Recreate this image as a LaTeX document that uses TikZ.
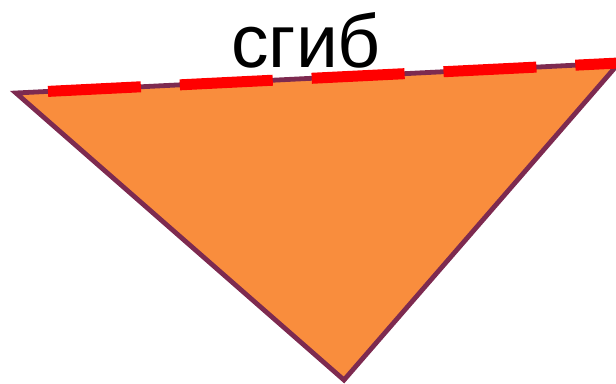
\documentclass[tikz,border=0pt]{standalone}
\usepackage{fontspec}
\setmainfont{Liberation Sans}
\definecolor{fillorange}{RGB}{249,141,61}
\definecolor{edgepurple}{RGB}{125,42,80}
\definecolor{foldred}{RGB}{255,0,0}
\tikzset{
  tri/.style={fill=fillorange, draw=edgepurple, line width=4.8pt, line join=miter},
  fold/.style={draw=foldred, line width=11pt, dash pattern=on 93pt off 39pt},
  lbl/.style={font=\fontsize{75}{75}\selectfont, text=black, inner sep=0pt, anchor=base}
}
\begin{document}
\begin{tikzpicture}[x=1pt,y=-1pt]
\useasboundingbox (0,0) rectangle (616,383);
\begin{scope}
\clip (0,0) rectangle (616,383);
\coordinate (L) at (16,93);
\coordinate (R) at (619,63);
\coordinate (B) at (344,380);
\coordinate (S) at (48,91.4);
\draw[tri] (L) -- (R) -- (B) -- cycle;
\draw[fold] (S) -- (R);
\end{scope}
\node[lbl] (t) at (306,67) {сгиб};
\end{tikzpicture}
\end{document}
